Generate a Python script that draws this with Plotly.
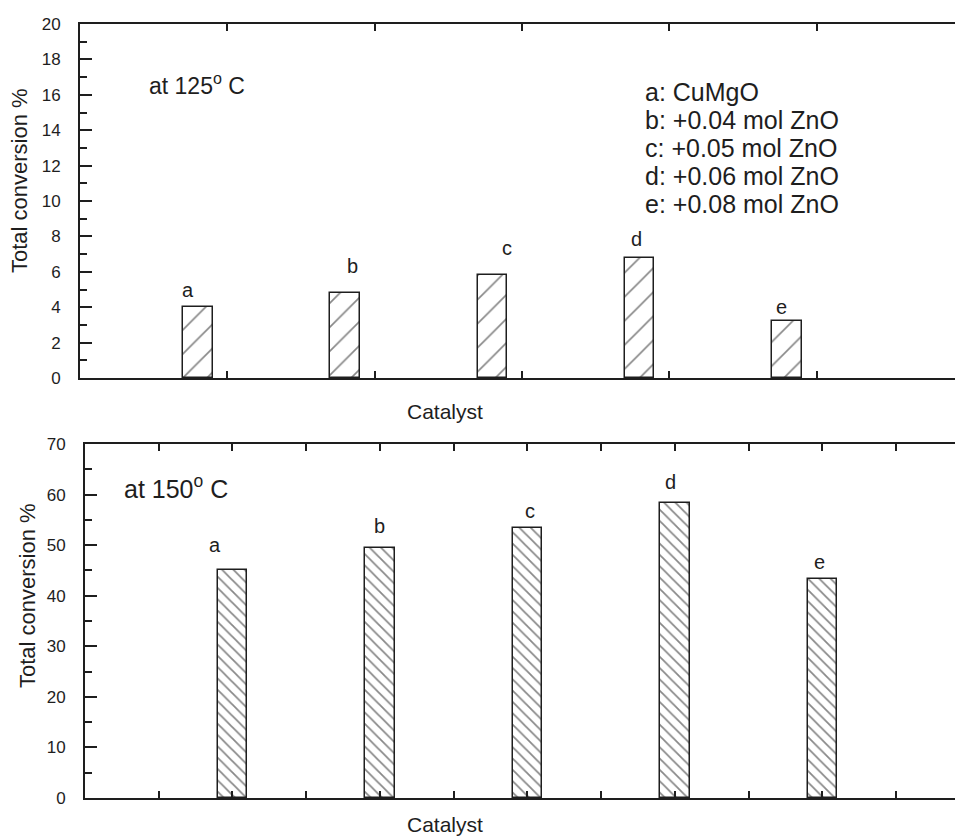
import plotly.graph_objects as go

categories = ["a", "b", "c", "d", "e"]
conv_125 = [4.0, 4.8, 5.8, 6.8, 3.2]
conv_150 = [45.0, 49.5, 53.3, 58.4, 43.4]
legend_lines = ["a: CuMgO", "b: +0.04 mol ZnO", "c: +0.05 mol ZnO",
                "d: +0.06 mol ZnO", "e: +0.08 mol ZnO"]
# label positions (data coords)
lab_125_x = [0.93, 2.05, 3.10, 3.98, 4.96]
lab_125_y = [4.97, 6.33, 7.34, 7.85, 4.02]
lab_150_x = [0.88, 2.00, 3.02, 3.97, 4.98]
lab_150_y = [50.0, 53.7, 56.7, 62.5, 46.6]

xpos = [i + 1 for i in range(len(categories))]

FONT = "Liberation Sans, Arial, sans-serif"
INK = "#1e1e1e"
W, H = 955, 837

fig = go.Figure()
fig.add_trace(go.Bar(
    x=xpos, y=conv_125, width=0.2, xaxis="x", yaxis="y",
    marker=dict(color="white", line=dict(color=INK, width=1.5),
                pattern=dict(shape="/", fgcolor="#111111", bgcolor="white", size=17, solidity=0.1)),
    showlegend=False, hoverinfo="skip"))
fig.add_trace(go.Bar(
    x=xpos, y=conv_150, width=0.2, xaxis="x2", yaxis="y2",
    marker=dict(color="white", line=dict(color=INK, width=1.5),
                pattern=dict(shape="\\", fgcolor="#111111", bgcolor="white", size=8, solidity=0.22)),
    showlegend=False, hoverinfo="skip"))

def yax(dom, rng, dtick, minor, anchor):
    return dict(domain=dom, range=rng, dtick=dtick, tick0=0, anchor=anchor, automargin=False,
                showgrid=False, zeroline=False, showline=True, linecolor=INK, linewidth=2,
                ticks="inside", ticklen=12, tickwidth=1.5, tickcolor=INK,
                ticklabelstandoff=14,
                minor=dict(dtick=minor, ticks="inside", ticklen=7, tickwidth=1.5, tickcolor=INK),
                tickfont=dict(family=FONT, size=17, color=INK))

def xax(dom, rng, tick0, dtick, anchor):
    return dict(domain=dom, range=rng, tick0=tick0, dtick=dtick, anchor=anchor, automargin=False,
                showgrid=False, zeroline=False, showline=True, linecolor=INK, linewidth=2,
                mirror="ticks", ticks="inside", ticklen=7, tickwidth=1.5, tickcolor=INK,
                showticklabels=False)

top_dom = [1 - 378 / H, 1 - 24 / H]
bot_dom = [1 - 798 / H, 1 - 444 / H]

fig.update_layout(
    width=W, height=H, margin=dict(l=0, r=0, t=0, b=0, pad=0, autoexpand=False),
    paper_bgcolor="white", plot_bgcolor="white",
    font=dict(family=FONT, color=INK),
    bargap=0,
    xaxis=xax([80 / W, 1], [0.2, 6.14], 0.2, 1, "y"),
    yaxis=yax(top_dom, [0, 20], 2, 1, "x"),
    xaxis2=xax([85 / W, 1], [0, 5.9], 0, 0.5, "y2"),
    yaxis2=yax(bot_dom, [0, 70], 10, 5, "x2"),
)

def pap(x, y, text, size, xa="center", ya="middle", angle=0):
    return dict(x=x / W, y=1 - y / H, xref="paper", yref="paper", text=text,
                xanchor=xa, yanchor=ya, textangle=angle, showarrow=False,
                font=dict(size=size, family=FONT, color=INK))

ann = []
for c, x, y in zip(categories, lab_125_x, lab_125_y):
    ann.append(dict(x=x, y=y, xref="x", yref="y", text=c, showarrow=False,
                    xanchor="center", yanchor="middle",
                    font=dict(size=20, family=FONT, color=INK)))
for c, x, y in zip(categories, lab_150_x, lab_150_y):
    ann.append(dict(x=x, y=y, xref="x2", yref="y2", text=c, showarrow=False,
                    xanchor="center", yanchor="middle",
                    font=dict(size=20, family=FONT, color=INK)))
for i, t in enumerate(legend_lines):
    ann.append(pap(643, 92 + 28 * i, t, 25, xa="left"))
ann.append(pap(147, 84, "at 125<sup>o</sup> C", 23, xa="left"))
ann.append(pap(122, 487, "at 150<sup>o</sup> C", 25, xa="left"))
ann.append(pap(20, 181, "Total conversion %", 22, angle=-90))
ann.append(pap(27, 596, "Total conversion %", 22, angle=-90))
ann.append(pap(445, 411, "Catalyst", 21))
ann.append(pap(445, 824, "Catalyst", 21))
fig.update_layout(annotations=ann)

fig.write_html("out.html", config={"displayModeBar": False},
               post_script="document.body.style.margin='0';document.body.style.overflow='hidden';")
